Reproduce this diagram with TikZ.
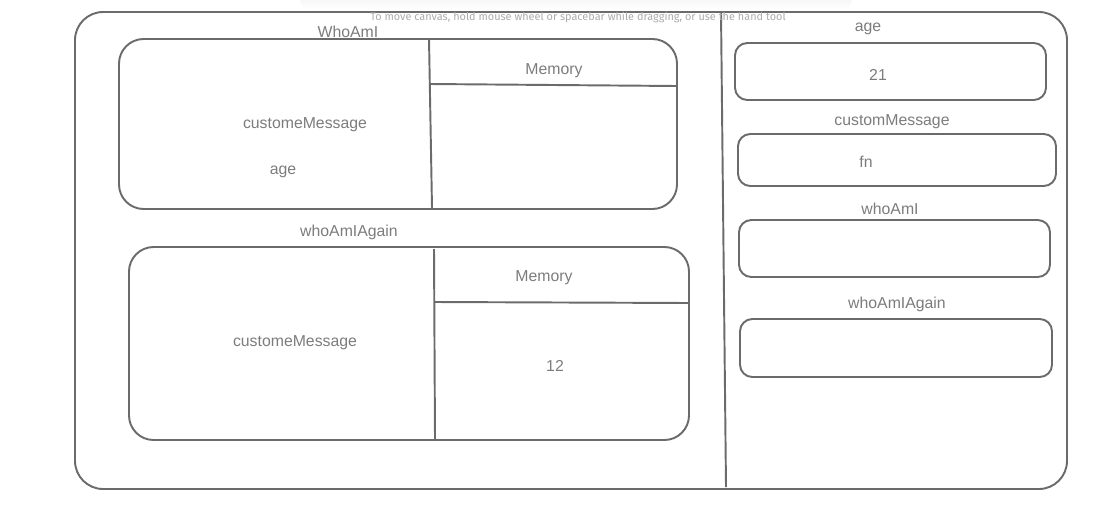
\documentclass[tikz,border=0pt]{standalone}
\usepackage{fontspec}
\setmainfont{Liberation Sans}
\newfontfamily\tipfont{Fira Sans}
\usetikzlibrary{fadings,positioning}
\definecolor{inkgray}{HTML}{6B6B6B}
\definecolor{textgray}{HTML}{7C7C7C}
\definecolor{tipgray}{HTML}{ABABAB}
\tikzset{
  frame/.style = {draw=inkgray, line width=1.1pt, rounded corners=16pt},
  scopebox/.style = {draw=inkgray, line width=1.1pt, rounded corners=14pt},
  slotbox/.style = {draw=inkgray, line width=1.1pt, rounded corners=7pt},
  rule/.style = {draw=inkgray, line width=1.1pt},
  lbl/.style = {text=textgray, font=\fontsize{9}{11}\selectfont, inner sep=0pt, yshift=-1.2pt},
  tip/.style = {text=tipgray, font=\tipfont\fontsize{6.2}{7.5}\selectfont, inner sep=0pt}
}

\begin{document}
\begin{tikzpicture}[x=0.02cm, y=-0.02cm]
\useasboundingbox (0,0) rectangle (1108,507);
% faint banner behind the hint
\fill[black!5, rounded corners=6pt, path fading=south] (300,-8) rectangle (852,10);
% outer frame and divider
\draw[frame] (75,12) rectangle (1067,489);
\draw[rule] (721,12) -- (726,487);
\node[tip] (hint) at (578,17) {To move canvas, hold mouse wheel or spacebar while dragging, or use the hand tool};
% first scope
\node[lbl] (whoami) at (348,30) {WhoAmI};
\draw[scopebox] (119,39) rectangle (677,209);
\draw[rule] (429,39) -- (432,208);
\draw[rule] (430,84) -- (676,86);
\node[lbl] (memA) at (554,69) {Memory};
\node[lbl] (msgA) at (305,123) {customeMessage};
\node[lbl] (ageA) at (283,170) {age};
% second scope
\node[lbl] (again) at (349,230) {whoAmIAgain};
\draw[scopebox] (129,247) rectangle (689,440);
\draw[rule] (434,249) -- (435,440);
\draw[rule] (434,302) -- (689,303);
\node[lbl] (memB) at (544,276) {Memory};
\node[lbl] (msgB) at (295,341) {customeMessage};
\node[lbl] (valB) at (555,364) {12};
% global memory
\node[lbl] (ageG) at (868,27) {age};
\draw[slotbox] (735,43) rectangle (1046,100);
\node[lbl] (ageV) at (878,73) {21};
\node[lbl] (msgG) at (892,120) {customMessage};
\draw[slotbox] (738,134) rectangle (1056,186);
\node[lbl] (msgV) at (866,160) {fn};
\node[lbl] (whoG) at (890,207) {whoAmI};
\draw[slotbox] (739,220) rectangle (1050,277);
\node[lbl] (againG) at (897,302) {whoAmIAgain};
\draw[slotbox] (740,319) rectangle (1052,377);
\end{tikzpicture}
\end{document}
